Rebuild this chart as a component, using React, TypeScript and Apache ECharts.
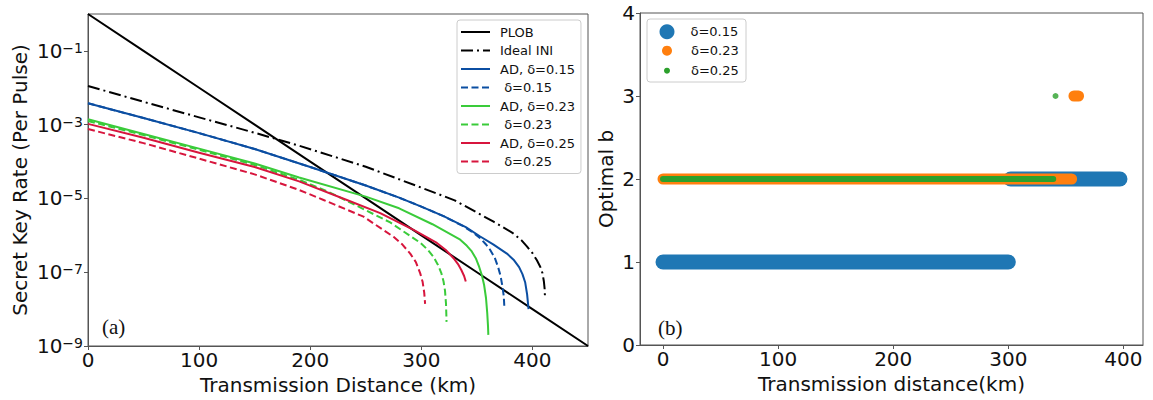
import React, { useEffect, useRef } from 'react';
import * as echarts from 'echarts';

// ---------- Panel (a): secret key rate vs distance ----------
const plobKm = [0, 50, 100, 150, 200, 250, 300, 350, 400, 450];
const plobRate = [1, 1e-1, 1e-2, 1e-3, 1e-4, 1e-5, 1e-6, 1e-7, 1e-8, 1e-9];

const iniKm = [0, 50, 100, 150, 190, 250, 310, 330, 365, 382, 390, 395, 400, 404, 407, 409, 410.3, 411, 411.3];
const iniRate = [1.12e-2, 4.17e-3, 1.58e-3, 6.03e-4, 2.69e-4, 7.24e-5, 1.51e-5, 8.9e-6, 2.34e-6, 1.17e-6, 7.4e-7, 5.0e-7, 3.3e-7, 2.1e-7, 1.41e-7, 9.5e-8, 5.6e-8, 3.5e-8, 2.0e-8];

const ad15Km = [0, 50, 100, 150, 200, 250, 280, 300, 320, 340, 353, 365, 377, 383, 388, 391, 393.5, 395.2, 396.5];
const ad15Rate = [3.8e-3, 1.51e-3, 5.9e-4, 2.19e-4, 7.1e-5, 2.24e-5, 1.05e-5, 6.0e-6, 3.3e-6, 1.66e-6, 9.3e-7, 5.6e-7, 3.2e-7, 2.19e-7, 1.38e-7, 8.9e-8, 5.25e-8, 2.5e-8, 1.0e-8];

const d15Km = [0, 50, 100, 150, 200, 250, 280, 300, 320, 338, 347, 353, 358, 362, 366, 369, 371.3, 373, 374.2, 374.7];
const d15Rate = [3.8e-3, 1.51e-3, 5.9e-4, 2.19e-4, 7.1e-5, 2.24e-5, 1.05e-5, 6.0e-6, 3.3e-6, 1.75e-6, 1.17e-6, 8.3e-7, 5.75e-7, 4.0e-7, 2.5e-7, 1.41e-7, 7.9e-8, 4.1e-8, 2.24e-8, 1.17e-8];

const ad23Km = [0, 50, 100, 150, 190, 250, 280, 310, 335, 341, 345, 349, 352, 354.5, 356.5, 358.2, 359.3, 360, 360.3];
const ad23Rate = [1.41e-3, 5.6e-4, 2.24e-4, 8.9e-5, 3.7e-5, 1.12e-5, 5.4e-6, 2.0e-6, 7.6e-7, 5.2e-7, 3.8e-7, 2.4e-7, 1.41e-7, 8.3e-8, 4.5e-8, 2.0e-8, 7.9e-9, 3.5e-9, 2.0e-9];

const d23Km = [0, 50, 100, 150, 190, 215, 242, 272, 299, 306, 311, 315, 318, 320, 321.3, 322.2, 322.7];
const d23Rate = [1.26e-3, 5.2e-4, 2.09e-4, 8.1e-5, 3.2e-5, 1.58e-5, 6.3e-6, 2.24e-6, 6.3e-7, 4.0e-7, 2.6e-7, 1.58e-7, 9.5e-8, 5.6e-8, 3.16e-8, 1.41e-8, 4.5e-9];

const ad25Km = [0, 50, 100, 150, 190, 233, 263, 293, 314, 322, 329, 333, 336, 338.5, 340];
const ad25Rate = [1.05e-3, 4.4e-4, 1.74e-4, 7.1e-5, 2.9e-5, 9.1e-6, 4.0e-6, 1.41e-6, 6.2e-7, 4.0e-7, 2.4e-7, 1.66e-7, 1.15e-7, 7.9e-8, 5.6e-8];

const d25Km = [0, 50, 100, 150, 190, 212, 248, 275, 283, 290, 295, 299, 301.2, 302.6, 303.4];
const d25Rate = [7.6e-4, 3.16e-4, 1.2e-4, 4.5e-5, 1.7e-5, 9.1e-6, 3.2e-6, 9.1e-7, 5.6e-7, 3.2e-7, 1.9e-7, 9.3e-8, 5.4e-8, 2.8e-8, 1.38e-8];

const leftXTicks = [0, 100, 200, 300, 400];
const leftYTicks = [1e-9, 1e-7, 1e-5, 1e-3, 1e-1];
const leftYTickExp = ['−9', '−7', '−5', '−3', '−1'];

// ---------- Panel (b): optimal b vs distance ----------
const opt15LowKm = [0, 300];
const opt15LowB = [1, 1];
const opt15HighKm = [302, 397];
const opt15HighB = [2, 2];
const opt23LowKm = [0, 355];
const opt23LowB = [2, 2];
const opt23HighKm = [357, 361];
const opt23HighB = [3, 3];
const opt25LowKm = [0, 339];
const opt25LowB = [2, 2];
const opt25HighKm = [341];
const opt25HighB = [3];

const rightXTicks = [0, 100, 200, 300, 400];

const zip = (xs: number[], ys: number[]) => xs.map((x, i) => [x, ys[i]]);

const FONT = 'DejaVu Sans';
const AXIS_COLOR = '#555';

export default function App() {
  const ref = useRef<HTMLDivElement>(null);

  useEffect(() => {
    if (!ref.current) return;
    const chart = echarts.init(ref.current, undefined, { renderer: 'svg' });

    const leftLine = (name: string, xs: number[], ys: number[], color: string, type: any, width = 2) => ({
      type: 'line',
      name,
      xAxisIndex: 0,
      yAxisIndex: 0,
      data: zip(xs, ys),
      symbol: 'none',
      smooth: false,
      color,
      lineStyle: { color, width, type, join: 'round' },
    });

    const rightLine = (name: string, xs: number[], ys: number[], color: string, width: number) => ({
      type: 'line',
      name,
      xAxisIndex: 1,
      yAxisIndex: 1,
      data: zip(xs, ys),
      symbol: 'none',
      color,
      lineStyle: { color, width, cap: 'round' },
    });

    const axisTickStyle = { show: true, length: 4, lineStyle: { color: AXIS_COLOR, width: 1 } };
    const axisLineStyle = { show: true, onZero: false, lineStyle: { color: AXIS_COLOR, width: 1 } };
    const tickLabelStyle = { fontFamily: FONT, fontSize: 20, color: '#111' };
    const nameStyle = { fontFamily: FONT, fontSize: 20, color: '#111' };
    const legendText = (pad: number) => ({ fontFamily: FONT, fontSize: 13, color: '#111', padding: [0, 0, 0, pad] });

    const BLUE = '#0b4ea2';
    const GREEN = '#3acb3a';
    const RED = '#d7153d';

    const option: any = {
      animation: false,
      backgroundColor: '#fff',
      grid: [
        { left: 88, top: 14, width: 500, height: 332, show: true, borderColor: AXIS_COLOR, borderWidth: 1 },
        { left: 640, top: 13, width: 503, height: 332, show: true, borderColor: AXIS_COLOR, borderWidth: 1 },
      ],
      xAxis: [
        {
          type: 'value',
          gridIndex: 0,
          min: 0,
          max: 450,
          name: 'Transmission Distance (km)',
          nameLocation: 'middle',
          nameGap: 27,
          nameTextStyle: nameStyle,
          axisLine: axisLineStyle,
          axisTick: { ...axisTickStyle, customValues: leftXTicks },
          axisLabel: { ...tickLabelStyle, margin: 4, customValues: leftXTicks },
          splitLine: { show: false },
        },
        {
          type: 'value',
          gridIndex: 1,
          min: -20,
          max: 417,
          name: 'Transmission distance(km)',
          nameLocation: 'middle',
          nameGap: 27,
          nameTextStyle: nameStyle,
          axisLine: axisLineStyle,
          axisTick: { ...axisTickStyle, customValues: rightXTicks },
          axisLabel: { ...tickLabelStyle, margin: 4, customValues: rightXTicks },
          splitLine: { show: false },
        },
      ],
      yAxis: [
        {
          type: 'log',
          logBase: 10,
          gridIndex: 0,
          min: 1e-9,
          max: 1,
          name: 'Secret Key Rate (Per Pulse)',
          nameLocation: 'middle',
          nameGap: 58,
          nameTextStyle: nameStyle,
          axisLine: axisLineStyle,
          axisTick: { ...axisTickStyle, customValues: leftYTicks },
          axisLabel: {
            margin: 5,
            customValues: leftYTicks,
            formatter: (v: number) => {
              let best = 0;
              let bestD = Infinity;
              leftYTicks.forEach((t, i) => {
                const d = Math.abs(Math.log10(v) - Math.log10(t));
                if (d < bestD) {
                  bestD = d;
                  best = i;
                }
              });
              return `{b|10}{e|${leftYTickExp[best]}}`;
            },
            rich: {
              b: { fontFamily: FONT, fontSize: 20, color: '#111' },
              e: { fontFamily: FONT, fontSize: 14, color: '#111', verticalAlign: 'top' },
            },
          },
          splitLine: { show: false },
          minorTick: { show: false },
        },
        {
          type: 'value',
          gridIndex: 1,
          min: 0,
          max: 4,
          interval: 1,
          name: 'Optimal b',
          nameLocation: 'middle',
          nameGap: 24,
          nameTextStyle: nameStyle,
          axisLine: axisLineStyle,
          axisTick: axisTickStyle,
          axisLabel: { ...tickLabelStyle, margin: 5 },
          splitLine: { show: false },
        },
      ],
      legend: [
        {
          orient: 'vertical',
          left: 457,
          top: 20,
          padding: [5.5, 6, 5.5, 3],
          itemWidth: 29,
          itemHeight: 14,
          itemGap: 5.5,
          backgroundColor: 'rgba(255,255,255,0.8)',
          borderColor: '#ccc',
          borderWidth: 1,
          borderRadius: 3,
          itemStyle: { color: 'rgba(0,0,0,0)', borderWidth: 0 },
          textStyle: legendText(5),
          data: ['PLOB', 'Ideal INI', 'AD, δ=0.15', ' δ=0.15', 'AD, δ=0.23', ' δ=0.23', 'AD, δ=0.25', ' δ=0.25'],
        },
        {
          left: 659.5,
          top: 24.2,
          padding: 0,
          itemWidth: 15,
          itemHeight: 15,
          icon: 'circle',
          itemStyle: { color: '#1f77b4', borderWidth: 0 },
          textStyle: legendText(11),
          data: ['δ=0.15'],
        },
        {
          left: 662,
          top: 44.2,
          padding: 0,
          itemWidth: 10,
          itemHeight: 10,
          icon: 'circle',
          itemStyle: { color: '#ff7f0e', borderWidth: 0 },
          textStyle: legendText(14),
          data: ['δ=0.23'],
        },
        {
          left: 664,
          top: 64.2,
          padding: 0,
          itemWidth: 6,
          itemHeight: 6,
          icon: 'circle',
          itemStyle: { color: '#2ca02c', borderWidth: 0 },
          textStyle: legendText(16),
          data: ['δ=0.25'],
        },
      ],
      graphic: [
        {
          type: 'rect',
          z: 3,
          shape: { x: 647, y: 19, width: 99, height: 63, r: 3 },
          style: { fill: 'rgba(255,255,255,0.8)', stroke: '#ccc', lineWidth: 1 },
        },
        {
          type: 'text',
          z: 10,
          x: 102,
          y: 327,
          style: { text: '(a)', fontFamily: 'Liberation Serif', fontSize: 21, fill: '#111', verticalAlign: 'middle' },
        },
        {
          type: 'text',
          z: 10,
          x: 658,
          y: 328,
          style: { text: '(b)', fontFamily: 'Liberation Serif', fontSize: 21, fill: '#111', verticalAlign: 'middle' },
        },
      ],
      series: [
        leftLine('PLOB', plobKm, plobRate, '#000', 'solid'),
        leftLine('Ideal INI', iniKm, iniRate, '#000', [12, 4, 2, 4]),
        leftLine('AD, δ=0.15', ad15Km, ad15Rate, BLUE, 'solid'),
        leftLine(' δ=0.15', d15Km, d15Rate, BLUE, [7, 3.5]),
        leftLine('AD, δ=0.23', ad23Km, ad23Rate, GREEN, 'solid'),
        leftLine(' δ=0.23', d23Km, d23Rate, GREEN, [7, 3.5]),
        leftLine('AD, δ=0.25', ad25Km, ad25Rate, RED, 'solid'),
        leftLine(' δ=0.25', d25Km, d25Rate, RED, [7, 3.5]),

        rightLine('δ=0.15', opt15LowKm, opt15LowB, '#1f77b4', 15),
        rightLine('δ=0.15', opt15HighKm, opt15HighB, '#1f77b4', 15),
        rightLine('δ=0.23', opt23LowKm, opt23LowB, '#ff7f0e', 11),
        rightLine('δ=0.23', opt23HighKm, opt23HighB, '#ff7f0e', 11),
        rightLine('δ=0.25', opt25LowKm, opt25LowB, '#2ca02c', 6),
        {
          type: 'scatter',
          name: 'δ=0.25',
          xAxisIndex: 1,
          yAxisIndex: 1,
          data: zip(opt25HighKm, opt25HighB),
          symbol: 'circle',
          symbolSize: 6,
          color: '#2ca02c',
          itemStyle: { color: '#2ca02c' },
        },
      ],
    };

    chart.setOption(option);
    return () => chart.dispose();
  }, []);

  return (
    <div
      ref={ref}
      style={{ position: 'fixed', left: 0, top: 0, width: 1153, height: 400, background: '#fff' }}
    />
  );
}
